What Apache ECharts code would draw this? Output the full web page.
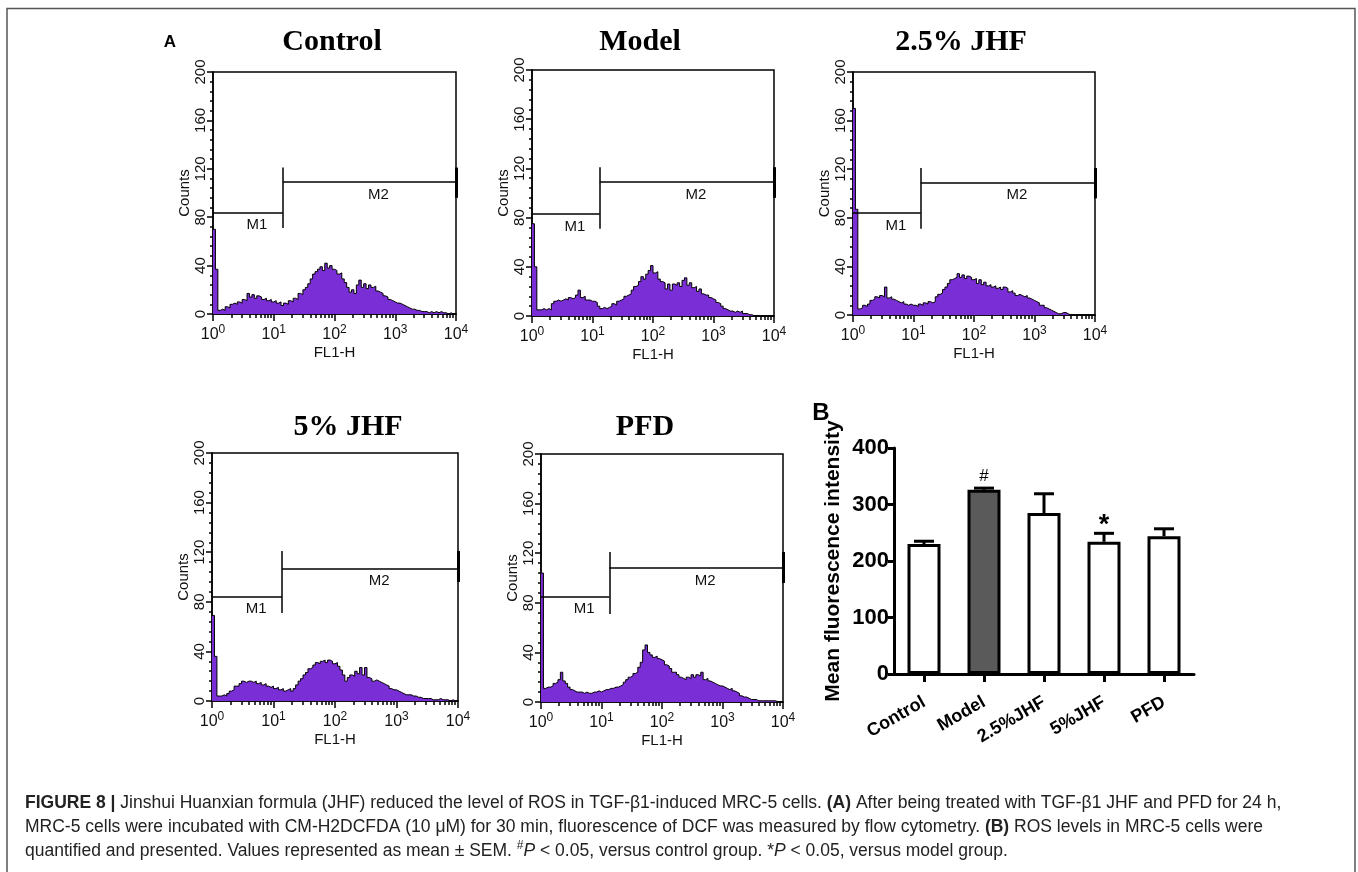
<!DOCTYPE html>
<html><head><meta charset="utf-8">
<script src="https://cdn.jsdelivr.net/npm/echarts@6/dist/echarts.min.js"></script>
<style>html,body{margin:0;padding:0;background:#fff;}#c{width:1358px;height:872px;}</style>
</head><body><div id="c"></div>
<script>
// ---------- DATA ----------
const panelTitles = ['Control', 'Model', '2.5% JHF', '5% JHF', 'PFD'];
// histogram counts per channel, channels evenly spaced in log10(FL1-H) from 0 to 4
const countsControl = [70,37,3,4,3,6,5,8,9,8, 10,9,12,11,17,14,16,13,15,14, 12,13,11,12,10,11,9,10,7,9, 8,11,10,13,12,17,16,20,22,25, 29,33,35,37,39,36,42,38,40,37, 36,33,34,29,26,22,18,20,17,24, 28,22,25,21,24,22,23,19,18,17, 15,14,12,11,10,9,9,8,7,6, 5,4,4,3,3,2,2,2,1,2, 1,2,1,2,1,1,0,1,0,0, 0];
const countsModel = [75,40,5,5,6,5,6,5,10,12, 13,12,13,14,13,15,14,15,17,21, 15,16,13,13,12,12,11,8,6,7, 6,7,8,10,9,12,13,14,16,17, 18,21,24,25,28,32,30,34,37,41, 35,36,30,28,27,22,26,21,26,25, 27,24,29,31,25,27,23,24,20,22, 18,17,17,15,14,13,11,10,8,6, 5,4,4,3,4,3,4,2,2,1, 1,0,0,0,0,0,0,0,0,0, 0];
const countsJHF25 = [170,87,5,6,8,7,9,12,13,15, 14,16,15,23,14,15,13,12,11,10, 11,9,8,9,8,8,7,9,8,10, 9,11,10,11,15,17,18,21,23,26, 29,30,31,34,31,33,30,32,31,29, 30,26,29,25,27,24,25,23,24,22, 23,21,23,22,19,20,18,16,17,16, 15,16,14,13,12,11,10,8,8,6, 5,4,3,2,1,1,2,2,1,0, 0,0,0,0,0,0,0,0,0,0, 0];
const countsJHF5 = [69,36,4,4,5,4,6,8,9,12, 12,14,16,15,16,16,15,16,14,15, 13,14,12,11,12,10,11,9,10,8, 9,10,8,10,13,16,18,21,23,26, 27,29,31,30,32,33,31,33,32,30, 31,28,25,21,16,19,21,20,24,22, 27,21,27,19,18,16,17,16,15,14, 13,12,10,9,9,8,7,6,5,5, 5,4,4,3,3,2,2,2,2,1, 1,1,2,1,1,1,0,1,0,0, 0];
const countsPFD = [104,11,12,12,13,15,16,18,24,17, 15,12,10,9,8,8,8,7,8,7, 7,8,8,9,8,9,10,10,11,11, 12,12,13,14,16,18,20,21,23,24, 28,32,42,46,40,38,36,37,35,34, 33,30,29,27,24,24,22,20,19,18, 20,19,22,20,22,21,24,18,19,17, 16,15,14,13,13,12,11,10,11,9, 8,7,5,4,4,3,2,2,2,1, 1,1,1,1,1,1,1,0,0,0, 0];
const histCounts = [countsControl, countsModel, countsJHF25, countsJHF5, countsPFD];
const channelStepLog = 0.04;
// gates (log10 boundary, counts levels)
const gateBoundary = [1.15, 1.12, 1.12, 1.14, 1.13];
const gateM1Level = [84, 83, 84, 84, 85];
const gateM2Level = [109, 109, 109, 107, 108];
const gateDividerRange = [71, 121];
const gateEndRange = [96, 121];
const decadeExponents = ['0', '1', '2', '3', '4'];

// bar chart B
const barCategories = ['Control', 'Model', '2.5%JHF', '5%JHF', 'PFD'];
const barMeans = [230, 326, 285, 234, 244];
const barSEM = [5, 3, 34, 15, 13];
const barSig = ['', '#', '', '*', ''];

// ---------- LAYOUT / STYLE ----------
const FF = "'Liberation Sans', Arial, sans-serif";
const FN = "'Liberation Sans Narrow', 'Liberation Sans', Arial, sans-serif";
const FS = "'Liberation Serif', 'Times New Roman', serif";
const PURPLE = '#7A2ED6';
const histRects = [
  {left: 213, top: 72, width: 243, height: 242},
  {left: 532, top: 70, width: 242, height: 246},
  {left: 853, top: 72, width: 242, height: 243},
  {left: 212, top: 453, width: 246, height: 248},
  {left: 541, top: 454, width: 242, height: 248}
];
const titlePos = [[332, 42.5], [640, 42.5], [961, 42.5], [348, 427.5], [645, 427.5]];
const barRect = {left: 894, top: 448, width: 300, height: 226};
const barFills = ['#ffffff', '#5a5a5a', '#ffffff', '#ffffff', '#ffffff'];

const minorTickLogs = [];
for (let d = 0; d < 4; d++) for (let k = 2; k <= 9; k++) minorTickLogs.push(d + Math.log10(k));

const blk = {color: '#000', width: 1.5};
const grids = [], xAxes = [], yAxes = [], series = [];

histRects.forEach((r, g) => {
  grids.push(Object.assign({show: true, borderColor: '#000', borderWidth: 1.5, backgroundColor: 'transparent'}, r));
  xAxes.push({
    gridIndex: g, type: 'value', min: 0, max: 4, interval: 1, position: 'bottom',
    axisLine: {show: true, onZero: false, lineStyle: blk},
    axisTick: {show: true, length: 7, lineStyle: blk},
    splitLine: {show: false},
    axisLabel: {
      margin: 10, color: '#111',
      formatter: v => '{b|10}{s|' + decadeExponents[Math.round(v)] + '}',
      rich: {
        b: {fontSize: 16, fontFamily: FN, lineHeight: 22, color: '#111'},
        s: {fontSize: 12, fontFamily: FN, verticalAlign: 'top', color: '#111'}
      }
    },
    name: 'FL1-H', nameLocation: 'middle', nameGap: 31,
    nameTextStyle: {fontSize: 15, fontFamily: FN, color: '#111'}
  });
  xAxes.push({
    gridIndex: g, type: 'value', min: 0, max: 4, position: 'bottom',
    axisLine: {show: false}, splitLine: {show: false}, axisLabel: {show: false},
    axisTick: {show: true, length: 4, customValues: minorTickLogs, lineStyle: blk}
  });
  yAxes.push({
    gridIndex: g, type: 'value', min: 0, max: 200, interval: 40,
    axisLine: {show: true, onZero: false, lineStyle: blk},
    axisTick: {show: true, length: 6, lineStyle: blk},
    minorTick: {show: true, splitNumber: 5, length: 3, lineStyle: blk},
    splitLine: {show: false}, minorSplitLine: {show: false},
    axisLabel: {rotate: 90, fontSize: 15, fontFamily: FF, color: '#111', margin: 5},
    name: 'Counts', nameLocation: 'middle', nameGap: 19,
    nameTextStyle: {fontSize: 15, fontFamily: FF, color: '#111'}
  });
  const gx = gateBoundary[g], m1 = gateM1Level[g], m2 = gateM2Level[g];
  const ls = {color: '#000', width: 1.5, type: 'solid'};
  const noLabel = {show: false};
  series.push({
    type: 'line', xAxisIndex: 2 * g, yAxisIndex: g,
    data: histCounts[g].map((v, i) => [i * channelStepLog, v]),
    step: 'end', symbol: 'none', silent: true,
    lineStyle: {color: '#000', width: 1},
    areaStyle: {color: PURPLE, opacity: 1},
    markLine: {
      silent: true, symbol: ['none', 'none'], animation: false,
      data: [
        [{coord: [0, m1], lineStyle: ls, label: {show: true, formatter: 'M1', position: 'insideMiddleBottom', distance: 5, padding: [0, 0, 0, 18], fontSize: 15, fontFamily: FN, color: '#111'}}, {coord: [gx, m1]}],
        [{coord: [gx, gateDividerRange[0]], lineStyle: ls, label: noLabel}, {coord: [gx, gateDividerRange[1]]}],
        [{coord: [gx, m2], lineStyle: ls, label: {show: true, formatter: 'M2', position: 'insideMiddleBottom', distance: 5, padding: [0, 0, 0, 18], fontSize: 15, fontFamily: FN, color: '#111'}}, {coord: [4, m2]}],
        [{coord: [4, gateEndRange[0]], lineStyle: {color: '#000', width: 3, type: 'solid'}, label: noLabel}, {coord: [4, gateEndRange[1]]}]
      ]
    }
  });
});

// bar chart grid
grids.push(Object.assign({show: false}, barRect));
const thick = {color: '#000', width: 3};
xAxes.push({
  gridIndex: 5, type: 'category', data: barCategories,
  axisLine: {show: true, lineStyle: thick},
  axisTick: {show: true, alignWithLabel: true, length: 8, lineStyle: thick},
  axisLabel: {rotate: 30, interval: 0, fontSize: 18, fontWeight: 'bold', fontFamily: FF, color: '#000', margin: 27}
});
yAxes.push({
  gridIndex: 5, type: 'value', min: 0, max: 400, interval: 100,
  axisLine: {show: true, lineStyle: thick},
  axisTick: {show: true, length: 6, lineStyle: thick},
  splitLine: {show: false},
  axisLabel: {fontSize: 22, fontWeight: 'bold', fontFamily: FF, color: '#000', margin: 5},
  name: 'Mean fluorescence intensity', nameLocation: 'middle', nameGap: 50,
  nameTextStyle: {fontSize: 21, fontWeight: 'bold', fontFamily: FF, color: '#000'}
});
series.push({
  type: 'bar', xAxisIndex: 10, yAxisIndex: 5, barWidth: 33, silent: true,
  data: barMeans.map((v, i) => ({value: v, itemStyle: {color: barFills[i]}})),
  itemStyle: {borderColor: '#000', borderWidth: 3}
});
series.push({
  type: 'custom', xAxisIndex: 10, yAxisIndex: 5, silent: true, z: 5,
  data: barMeans.map((m, i) => [i, m, barSEM[i]]),
  encode: {x: 0, y: 1},
  renderItem: (params, api) => {
    const i = api.value(0), m = api.value(1), e = api.value(2);
    const p0 = api.coord([i, m]);
    const p1 = api.coord([i, m + e]);
    const hw = 10;
    const st = {stroke: '#000', lineWidth: 3};
    const children = [
      {type: 'line', shape: {x1: p0[0], y1: p0[1], x2: p1[0], y2: p1[1]}, style: st},
      {type: 'line', shape: {x1: p1[0] - hw, y1: p1[1], x2: p1[0] + hw, y2: p1[1]}, style: st}
    ];
    const sig = barSig[params.dataIndex];
    if (sig === '#') {
      children.push({type: 'text', x: p1[0], y: p1[1] - 12, style: {text: sig, fill: '#000', fontSize: 17, fontFamily: FF, align: 'center', verticalAlign: 'middle'}});
    } else if (sig) {
      children.push({type: 'text', x: p1[0], y: p1[1] - 8, style: {text: sig, fill: '#000', fontSize: 27, fontWeight: 'bold', fontFamily: FF, align: 'center', verticalAlign: 'middle'}});
    }
    return {type: 'group', children};
  }
});

// ---------- GRAPHIC TEXT ----------
const graphic = [];
graphic.push({type: 'polyline', silent: true, shape: {points: [[7, 900], [7, 8.5], [1355, 8.5], [1355, 900]]}, style: {stroke: '#555', lineWidth: 1.5, fill: null}});
panelTitles.forEach((t, g) => {
  graphic.push({type: 'text', x: titlePos[g][0], y: titlePos[g][1], silent: true,
    style: {text: t, fill: '#000', fontSize: 30, fontWeight: 'bold', fontFamily: FS, align: 'center', verticalAlign: 'middle'}});
});
graphic.push({type: 'text', x: 170, y: 42.5, silent: true, style: {text: 'A', fill: '#000', fontSize: 17, fontWeight: 'bold', fontFamily: FF, align: 'center', verticalAlign: 'middle'}});
graphic.push({type: 'text', x: 821, y: 413, silent: true, style: {text: 'B', fill: '#000', fontSize: 24, fontWeight: 'bold', fontFamily: FF, align: 'center', verticalAlign: 'middle'}});

const CAP = 17.5;
const capRich = {
  b: {fontWeight: 'bold', fontSize: CAP, fontFamily: FF, fill: '#222', lineHeight: 22},
  i: {fontStyle: 'italic', fontSize: CAP, fontFamily: FF, fill: '#222', lineHeight: 22},
  sup: {fontSize: 12, fontFamily: FF, fill: '#222', verticalAlign: 'top'}
};
const captionLines = [
  '{b|FIGURE 8 |} Jinshui Huanxian formula (JHF) reduced the level of ROS in TGF-\u03b21-induced MRC-5 cells. {b|(A)} After being treated with TGF-\u03b21 JHF and PFD for 24 h,',
  'MRC-5 cells were incubated with CM-H2DCFDA (10 \u03bcM) for 30 min, fluorescence of DCF was measured by flow cytometry. {b|(B)} ROS levels in MRC-5 cells were',
  'quantified and presented. Values represented as mean \u00b1 SEM. {sup|#}{i|P} < 0.05, versus control group. *{i|P} < 0.05, versus model group.'
];
const captionY = [803.5, 827.5, 851];
captionLines.forEach((t, k) => {
  graphic.push({type: 'text', x: 25, y: captionY[k], silent: true,
    style: {text: t, fill: '#222', fontSize: CAP, fontFamily: FF, align: 'left', verticalAlign: 'middle', lineHeight: 22, rich: capRich}});
});

const chart = echarts.init(document.getElementById('c'), null, {renderer: 'canvas'});
chart.setOption({
  animation: false,
  backgroundColor: '#fff',
  grid: grids, xAxis: xAxes, yAxis: yAxes, series: series, graphic: graphic
});
</script></body></html>
